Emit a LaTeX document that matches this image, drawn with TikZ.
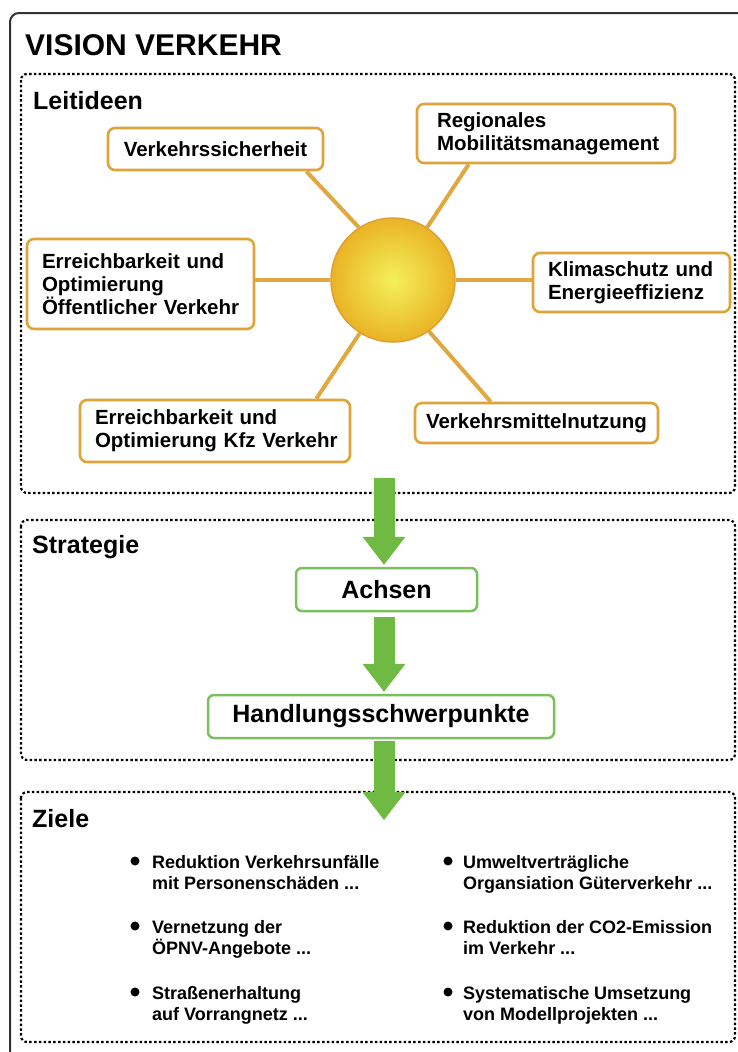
\documentclass[tikz,border=0pt]{standalone}
\usepackage{fontspec}
\setmainfont{Liberation Sans}
\usetikzlibrary{arrows.meta}
\definecolor{gold}{RGB}{222,164,58}
\definecolor{raycol}{RGB}{226,168,64}
\definecolor{sunin}{RGB}{244,240,90}
\definecolor{sunout}{RGB}{234,180,38}
\definecolor{sunedge}{RGB}{222,160,50}
\definecolor{grn}{RGB}{110,186,66}
\definecolor{grnbox}{RGB}{122,192,92}
\definecolor{framecol}{RGB}{50,50,50}
\begin{document}
\begin{tikzpicture}[x=1pt,y=-1pt,
  dotbox/.style={line width=2.2pt, dash pattern=on 2.5pt off 2.3pt, rounded corners=6pt},
  idea/.style={draw=gold, line width=2.6pt, rounded corners=7pt, fill=white,
    font=\fontsize{20.5}{23}\selectfont\bfseries, inner ysep=0pt},
  sbox/.style={draw=grnbox, line width=2.5pt, rounded corners=6pt, fill=white,
    font=\fontsize{25}{28}\selectfont\bfseries, inner sep=0pt},
  seclabel/.style={font=\fontsize{25}{28}\selectfont\bfseries, inner sep=0pt, anchor=base west},
  rayline/.style={draw=raycol, line width=4pt},
  greenarrow/.style={draw=grn, line width=21pt, -{Triangle[length=28pt,width=43pt,line width=0pt]}},
  goal/.style={font=\fontsize{18}{21.5}\selectfont\bfseries, align=left, inner sep=0pt, anchor=base west},
  bulletdot/.style={circle, fill=black, inner sep=0pt, minimum size=9pt}
]
\useasboundingbox (0,0) rectangle (737,1052);
\fill[white] (0,0) rectangle (737,1052);
% outer frame
\draw[framecol, line width=2pt, rounded corners=9pt] (10,13) rectangle (770,1090);
% section boxes
\draw[dotbox] (21,74) rectangle (735,493);
\draw[dotbox] (21,520) rectangle (735,760);
\draw[dotbox] (21,792) rectangle (735,1042);
% labels
\node[seclabel, font=\fontsize{30}{34}\selectfont\bfseries] (ttl) at (25,55) {VISION VERKEHR};
\node[seclabel] (lleit) at (33,109) {Leitideen};
\node[seclabel] (lstrat) at (32,553) {Strategie};
\node[seclabel] (lziele) at (32,827) {Ziele};
% sun
\node[circle, minimum size=124pt, inner sep=0pt, draw=sunedge, line width=1.5pt,
  inner color=sunin, outer color=sunout] (sun) at (393,280) {};
% idea boxes
\node[idea, minimum width=215pt, minimum height=42pt, align=center] (vs) at (215.5,149) {Verkehrssicherheit};
\node[idea, text width=218pt, inner xsep=20pt, minimum height=59pt, align=left] (rm) at (546,133.5) {Regionales\\Mobilitätsmanagement};
\node[idea, text width=197pt, inner xsep=15pt, minimum height=90pt, align=left] (oe) at (140.5,284) {Erreichbarkeit~und\\Optimierung\\Öffentlicher~Verkehr};
\node[idea, text width=167pt, inner xsep=15pt, minimum height=59pt, align=left] (ke) at (631.5,282.5) {Klimaschutz~und\\Energieeffizienz};
\node[idea, text width=240pt, inner xsep=15pt, minimum height=62pt, align=left] (kfz) at (215,431) {Erreichbarkeit~und\\Optimierung~Kfz~Verkehr};
\node[idea, minimum width=243pt, minimum height=40pt, align=center] (vm) at (536.5,423) {Verkehrsmittelnutzung};
% rays
\draw[rayline] ([xshift=-18pt]vs.south east) -- (sun.123);
\draw[rayline] ([xshift=53pt]rm.south west) -- (sun.57);
\draw[rayline] (sun.west) -- (sun.west -| oe.east);
\draw[rayline] (sun.east) -- (sun.east -| ke.west);
\draw[rayline] ([xshift=-35pt]kfz.north east) -- (sun.238);
\draw[rayline] ([xshift=77pt]vm.north west) -- (sun.305);
% strategy boxes
\node[sbox, minimum width=181pt, minimum height=43pt] (achsen) at (386.5,589.5) {Achsen};
\node[sbox, minimum width=346pt, minimum height=43pt] (hsp) at (381,716.5) {Handlungsschwerpunkte};
% arrows
\coordinate (a1s) at (384,478);
\coordinate (a2s) at (384,617);
\coordinate (a3s) at (384,741);
\coordinate (a3e) at (384,820);
\draw[greenarrow, shorten >=2pt] (a1s) -- (a1s |- achsen.north);
\draw[greenarrow, shorten >=2pt] (a2s) -- (a2s |- hsp.north);
\draw[greenarrow] (a3s) -- (a3e);
% goals
\node[bulletdot] (b1) at (135,861) {};
\node[goal] (g1) at (152,889.5) {Reduktion Verkehrsunfälle\\mit Personenschäden ...};
\node[bulletdot] (b2) at (135,926) {};
\node[goal] (g2) at (152,954.5) {Vernetzung der\\ÖPNV-Angebote ...};
\node[bulletdot] (b3) at (135,992) {};
\node[goal] (g3) at (152,1020.5) {Straßenerhaltung\\auf Vorrangnetz ...};
\node[bulletdot] (b4) at (448,861) {};
\node[goal] (g4) at (463,889.5) {Umweltverträgliche\\Organsiation Güterverkehr ...};
\node[bulletdot] (b5) at (448,926) {};
\node[goal] (g5) at (463,954.5) {Reduktion der CO2-Emission\\im Verkehr ...};
\node[bulletdot] (b6) at (448,992) {};
\node[goal] (g6) at (463,1020.5) {Systematische Umsetzung\\von Modellprojekten ...};
\end{tikzpicture}
\end{document}
